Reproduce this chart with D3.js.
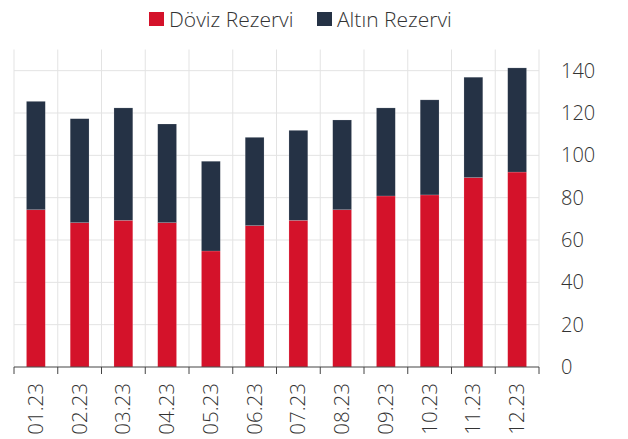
<!DOCTYPE html>
<html>
<head>
<meta charset="utf-8">
<script src="https://cdn.jsdelivr.net/npm/d3@7"></script>
<style>
  html, body { margin: 0; padding: 0; background: #fff; }
  svg { display: block; font-family: "Open Sans", "Noto Sans", sans-serif; font-weight: 300; }
</style>
</head>
<body>
<svg id="chart" width="628" height="439"></svg>
<script>
const categories = ["01.23","02.23","03.23","04.23","05.23","06.23","07.23","08.23","09.23","10.23","11.23","12.23"];
const dovizRezervi = [74.3, 68.2, 69.3, 68.2, 54.8, 66.8, 69.3, 74.3, 80.8, 81.3, 89.5, 92.1];
const altinRezervi = [51.2, 49.1, 53.1, 46.6, 42.4, 41.7, 42.5, 42.4, 41.6, 44.9, 47.4, 49.2];
const seriesNames = ["Döviz Rezervi", "Altın Rezervi"];
const seriesColors = ["#d4122a", "#253245"];
const yTicks = [0, 20, 40, 60, 80, 100, 120, 140];

const svg = d3.select("#chart");
const margin = { left: 14, right: 89, top: 49.5, bottom: 72 };
const W = 628, H = 439;
const x = d3.scaleBand().domain(categories).range([margin.left, W - margin.right]).paddingInner(0).paddingOuter(0);
const y = d3.scaleLinear().domain([0, 150]).range([H - margin.bottom, margin.top]);

// grid
const g = svg.append("g");
const bounds = categories.map(c => x(c)).concat([x(categories[categories.length-1]) + x.bandwidth()]);
g.selectAll("line.vg").data(bounds).enter().append("line")
  .attr("x1", d => d).attr("x2", d => d)
  .attr("y1", y(150)).attr("y2", y(0))
  .attr("stroke", "#e3e3e3").attr("stroke-width", 1);
g.selectAll("line.hg").data(yTicks.filter(t => t > 0)).enter().append("line")
  .attr("x1", margin.left).attr("x2", W - margin.right)
  .attr("y1", d => y(d)).attr("y2", d => y(d))
  .attr("stroke", "#e3e3e3").attr("stroke-width", 1);

// stacked bars
const data = categories.map((c, i) => ({ cat: c, d: dovizRezervi[i], a: altinRezervi[i] }));
const stack = d3.stack().keys(["d", "a"])(data);
const barW = x.bandwidth() * 0.43;
svg.append("g").selectAll("g").data(stack).enter().append("g")
  .attr("fill", (s, i) => seriesColors[i])
  .selectAll("rect").data(s => s).enter().append("rect")
  .attr("x", d => x(d.data.cat) + (x.bandwidth() - barW) / 2)
  .attr("width", barW)
  .attr("y", d => y(d[1]))
  .attr("height", d => y(d[0]) - y(d[1]))
  .attr("stroke", "rgba(255,255,255,0.25)").attr("stroke-width", 0.6);

// x axis
const axisY = y(0);
const xa = svg.append("g");
xa.append("line").attr("x1", margin.left).attr("x2", W - margin.right)
  .attr("y1", axisY).attr("y2", axisY).attr("stroke", "#444").attr("stroke-width", 1);
xa.selectAll("line.tk").data(bounds).enter().append("line")
  .attr("x1", d => d).attr("x2", d => d)
  .attr("y1", axisY).attr("y2", axisY + 7)
  .attr("stroke", "#444").attr("stroke-width", 1);
xa.selectAll("text").data(categories).enter().append("text")
  .attr("transform", d => `translate(${x(d) + x.bandwidth()/2 + 7},${axisY + 16}) rotate(-90)`)
  .attr("text-anchor", "end")
  .attr("font-size", 20.5).attr("fill", "#333")
  .text(d => d);

// y axis right
svg.append("g").selectAll("text").data(yTicks).enter().append("text")
  .attr("x", 561).attr("y", d => y(d) + 7)
  .attr("font-size", 20).attr("fill", "#333")
  .text(d => d);

// legend
const legendX = [149, 317];
const lg = svg.append("g");
seriesNames.forEach((n, i) => {
  lg.append("rect").attr("x", legendX[i]).attr("y", 12).attr("width", 15).attr("height", 14)
    .attr("fill", seriesColors[i]);
  lg.append("text").attr("x", legendX[i] + 20).attr("y", 26.5)
    .attr("font-size", 21).attr("fill", "#333").text(n);
});
</script>
</body>
</html>
